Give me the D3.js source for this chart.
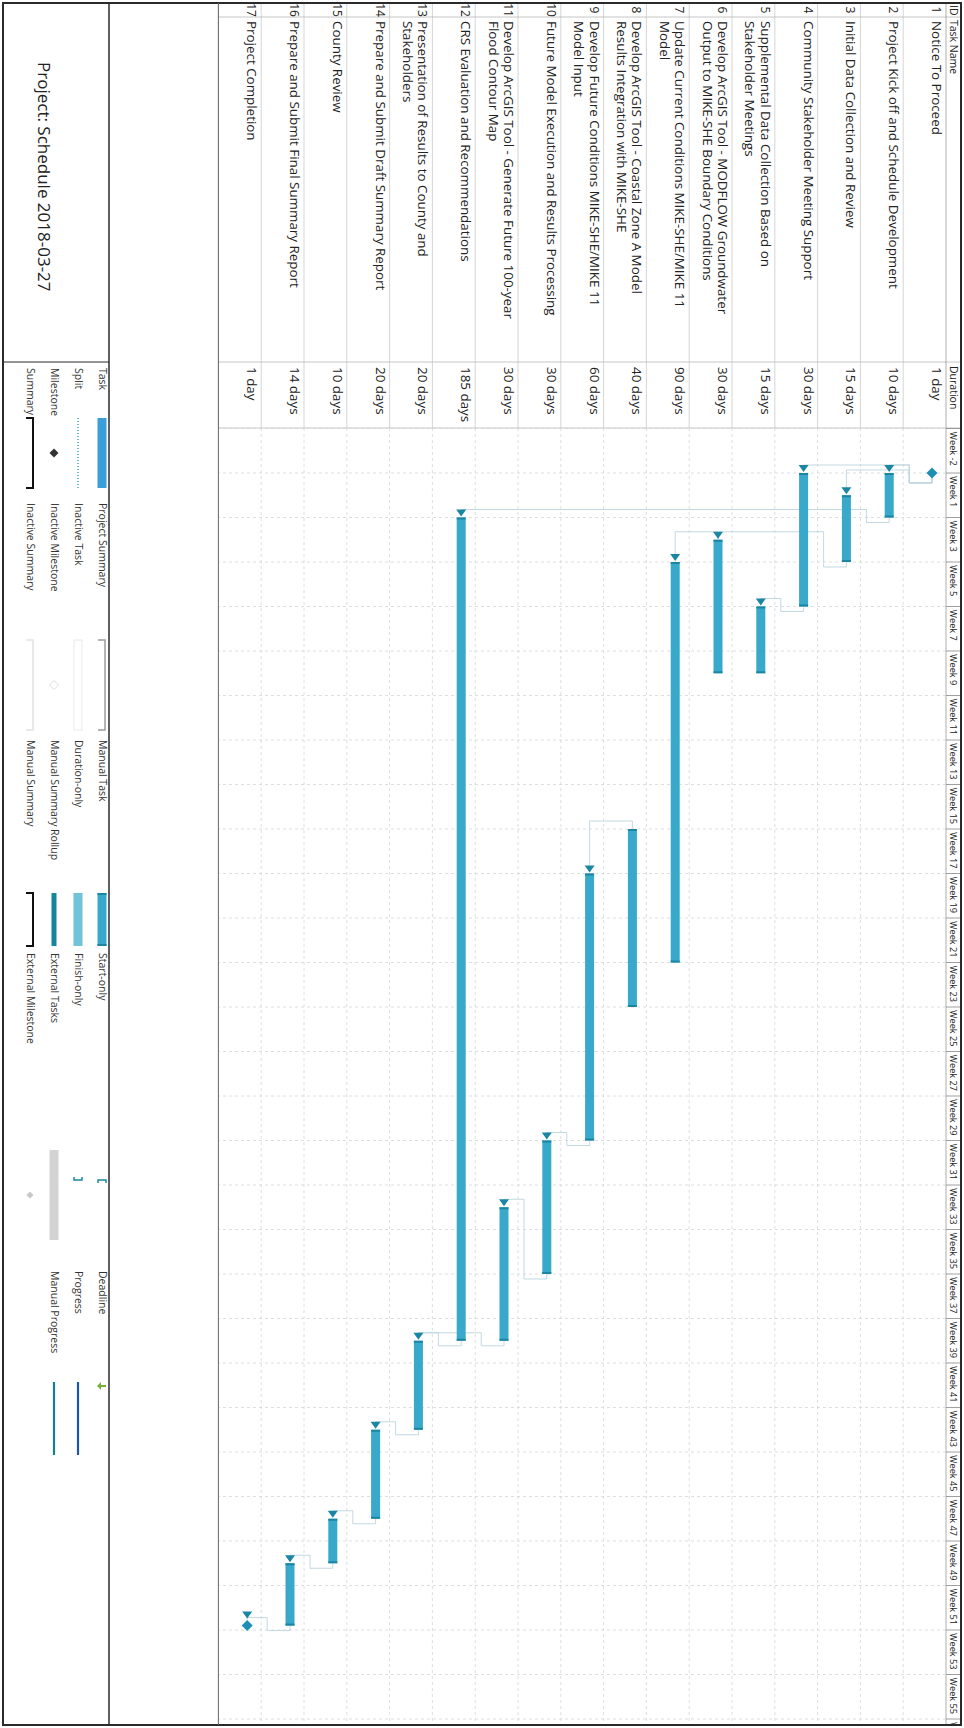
<!DOCTYPE html>
<html>
<head>
<meta charset="utf-8">
<script src="https://d3js.org/d3.v7.min.js"></script>
<title>Project: Schedule 2018-03-27</title>
<style>
  body { margin: 0; background: #fff; }
  svg text { font-family: "Open Sans", "Noto Sans", sans-serif; fill: #222; }
</style>
</head>
<body>
<div id="chart"></div>
<script>
// ---- data ----
var ids = [1, 2, 3, 4, 5, 6, 7, 8, 9, 10, 11, 12, 13, 14, 15, 16, 17];
var taskNames = [
  "Notice To Proceed",
  "Project Kick off and Schedule Development",
  "Initial Data Collection and Review",
  "Community Stakeholder Meeting Support",
  "Supplemental Data Collection Based on\nStakeholder Meetings",
  "Develop ArcGIS Tool - MODFLOW Groundwater\nOutput to MIKE-SHE Boundary Conditions",
  "Update Current Conditions MIKE-SHE/MIKE 11\nModel",
  "Develop ArcGIS Tool - Coastal Zone A Model\nResults Integration with MIKE-SHE",
  "Develop Future Conditions MIKE-SHE/MIKE 11\nModel Input",
  "Future Model Execution and Results Processing",
  "Develop ArcGIS Tool - Generate Future 100-year\nFlood Contour Map",
  "CRS Evaluation and Recommendations",
  "Presentation of Results to County and\nStakeholders",
  "Prepare and Submit Draft Summary Report",
  "County Review",
  "Prepare and Submit Final Summary Report",
  "Project Completion"
];
var durationLabels = ["1 day", "10 days", "15 days", "30 days", "15 days", "30 days", "90 days", "40 days",
  "60 days", "30 days", "30 days", "185 days", "20 days", "20 days", "10 days", "14 days", "1 day"];
// working days from project start
var startDays  = [0, 0, 5, 0, 30, 15, 20, 80, 90, 150, 165, 10, 195, 215, 235, 245, 259];
var lengthDays = [0, 10, 15, 30, 15, 30, 90, 40, 60, 30, 30, 185, 20, 20, 10, 14, 0];
// predecessor, successor, type
var links = [[1, 2, "FS"], [1, 3, "FS"], [1, 4, "FS"], [4, 5, "FS"], [3, 6, "FS"], [6, 7, "SS"],
  [8, 9, "SS"], [9, 10, "FS"], [10, 11, "FS"], [2, 12, "FS"], [11, 13, "FS"], [12, 13, "FS"],
  [13, 14, "FS"], [14, 15, "FS"], [15, 16, "FS"], [16, 17, "FS"]];
var weekLabels = ["Week -2", "Week 1", "Week 3", "Week 5", "Week 7", "Week 9", "Week 11", "Week 13",
  "Week 15", "Week 17", "Week 19", "Week 21", "Week 23", "Week 25", "Week 27", "Week 29", "Week 31",
  "Week 33", "Week 35", "Week 37", "Week 39", "Week 41", "Week 43", "Week 45", "Week 47", "Week 49",
  "Week 51", "Week 53", "Week 55", "W"];
var legendCols = [
  ["Task", "Split", "Milestone", "Summary"],
  ["Project Summary", "Inactive Task", "Inactive Milestone", "Inactive Summary"],
  ["Manual Task", "Duration-only", "Manual Summary Rollup", "Manual Summary"],
  ["Start-only", "Finish-only", "External Tasks", "External Milestone"],
  ["Deadline", "Progress", "Manual Progress"]
];
var projectTitle = "Project: Schedule 2018-03-27";

// ---- layout (drawn unrotated: u along the page height, v across it) ----
var pageW = 964, pageH = 1728;
var rowH = 42.8, headV = 18, tableBottom = headV + 17 * rowH;
var colName = 17, colDur = 362, colGantt = 428, frameEnd = 1725;
var legendTop = 855;

var barBlue = "#38a9cb", barDark = "#1b86a3", linkCol = "#bcd5df", gridCol = "#d3d6d8";

var svg = d3.select("#chart").append("svg").attr("width", pageW).attr("height", pageH);
var g = svg.append("g").attr("transform", "translate(" + pageW + ",0) rotate(90)");

var x = d3.scaleLinear().domain([0, 10]).range([473, 517.5]);
var y = d3.scaleBand().domain(ids).range([headV, tableBottom]);
var barMid = function(id) { return y(id) + 14; };

// clip for the gantt side
svg.append("defs").append("clipPath").attr("id", "gclip")
  .append("rect").attr("x", colGantt).attr("y", 3).attr("width", frameEnd - colGantt).attr("height", tableBottom - 3);

// ---- table grid ----
var grid = g.append("g");
grid.selectAll("line.row").data(ids).enter().append("line")
  .attr("x1", 3).attr("x2", colGantt)
  .attr("y1", function(d) { return y(d) + rowH; }).attr("y2", function(d) { return y(d) + rowH; })
  .attr("stroke", "#cacaca").attr("stroke-width", 0.8);
[colName, colDur, colGantt].forEach(function(u) {
  grid.append("line").attr("x1", u).attr("x2", u).attr("y1", 3).attr("y2", tableBottom)
    .attr("stroke", "#b8b8b8").attr("stroke-width", 0.8);
});
grid.append("line").attr("x1", 3).attr("x2", frameEnd).attr("y1", headV).attr("y2", headV)
  .attr("stroke", "#9a9a9a").attr("stroke-width", 0.8);

// gantt gridlines
var gg = g.append("g").attr("clip-path", "url(#gclip)");
gg.selectAll("line.wk").data(weekLabels).enter().append("line")
  .attr("x1", function(d, i) { return x((i - 1) * 10); }).attr("x2", function(d, i) { return x((i - 1) * 10); })
  .attr("y1", headV).attr("y2", tableBottom)
  .attr("stroke", gridCol).attr("stroke-width", 0.8).attr("stroke-dasharray", "3,3");
gg.selectAll("line.rw").data(ids.slice(0, 16)).enter().append("line")
  .attr("x1", colGantt).attr("x2", frameEnd)
  .attr("y1", function(d) { return y(d) + rowH; }).attr("y2", function(d) { return y(d) + rowH; })
  .attr("stroke", gridCol).attr("stroke-width", 0.8).attr("stroke-dasharray", "3,3");

// timescale header
gg.selectAll("line.hd").data(weekLabels).enter().append("line")
  .attr("x1", function(d, i) { return x((i - 1) * 10); }).attr("x2", function(d, i) { return x((i - 1) * 10); })
  .attr("y1", 3).attr("y2", headV).attr("stroke", "#888").attr("stroke-width", 0.8);
gg.selectAll("text.hd").data(weekLabels).enter().append("text")
  .attr("x", function(d, i) { return x((i - 1) * 10) + 3; }).attr("y", 14)
  .attr("font-size", "9.2px").text(function(d) { return d; });

// table header
var head = g.append("g").attr("font-size", "10.5px");
head.append("text").attr("x", 5).attr("y", 14).text("ID");
head.append("text").attr("x", colName + 3).attr("y", 14).text("Task Name");
head.append("text").attr("x", colDur + 4).attr("y", 14).text("Duration");

// table body
var body = g.append("g").attr("font-size", "13.4px");
body.selectAll("text.id").data(ids).enter().append("text")
  .attr("x", 10).attr("y", function(d) { return y(d) + 14; }).attr("text-anchor", "middle")
  .attr("font-size", "12px").text(function(d) { return d; });
body.selectAll("text.nm").data(ids).enter().append("text")
  .attr("x", colName + 4).attr("y", function(d) { return y(d) + 14; })
  .each(function(d) {
    var t = d3.select(this);
    taskNames[d - 1].split("\n").forEach(function(line, k) {
      t.append("tspan").attr("x", colName + 4).attr("dy", k ? 15.5 : 0).text(line);
    });
  });
body.selectAll("text.du").data(ids).enter().append("text")
  .attr("x", colDur + 5).attr("y", function(d) { return y(d) + 14; })
  .text(function(d) { return durationLabels[d - 1]; });

// ---- links ----
var linkG = gg.append("g").attr("fill", "none").attr("stroke", linkCol).attr("stroke-width", 0.9);
links.forEach(function(l) {
  var p = l[0], s = l[1];
  var sStart = x(startDays[s - 1]), pv = barMid(p), sv = barMid(s), pts;
  if (l[2] === "SS") {
    var pu = x(startDays[p - 1]), turnS = Math.min(pu, sStart) - 8;
    pts = [[pu, pv], [turnS, pv], [turnS, sv], [sStart - 6, sv]];
  } else {
    var pe = x(startDays[p - 1] + lengthDays[p - 1]) + (lengthDays[p - 1] ? 0 : 5);
    var turn = Math.min(pe, sStart) - 8, mid = y(p) + rowH - 6;
    pts = [[pe, pv], [pe + 5, pv], [pe + 5, mid], [turn, mid], [turn, sv], [sStart - 6, sv]];
  }
  linkG.append("path").attr("d", d3.line()(pts));
});
// arrow heads at successor starts
var succ = Array.from(new Set(links.map(function(l) { return l[1]; })));
gg.selectAll("path.arr").data(succ).enter().append("path")
  .attr("d", function(s) {
    var u = x(startDays[s - 1]) - (lengthDays[s - 1] ? 0 : 6), v = barMid(s);
    return "M" + (u - 8) + "," + (v - 5) + "L" + (u - 1) + "," + v + "L" + (u - 8) + "," + (v + 5) + "Z";
  })
  .attr("fill", barDark);

// ---- bars ----
var tasks = ids.filter(function(d) { return lengthDays[d - 1] > 0; });
var bars = gg.selectAll("g.bar").data(tasks).enter().append("g");
bars.append("rect")
  .attr("x", function(d) { return x(startDays[d - 1]); })
  .attr("width", function(d) { return x(startDays[d - 1] + lengthDays[d - 1]) - x(startDays[d - 1]); })
  .attr("y", function(d) { return barMid(d) - 4.5; }).attr("height", 9)
  .attr("fill", barBlue);
bars.append("rect")
  .attr("x", function(d) { return x(startDays[d - 1]); }).attr("width", 2)
  .attr("y", function(d) { return barMid(d) - 4.5; }).attr("height", 9).attr("fill", barDark);
bars.append("rect")
  .attr("x", function(d) { return x(startDays[d - 1] + lengthDays[d - 1]) - 2; }).attr("width", 2)
  .attr("y", function(d) { return barMid(d) - 4.5; }).attr("height", 9).attr("fill", barDark);

// milestones
var miles = ids.filter(function(d) { return lengthDays[d - 1] === 0; });
gg.selectAll("path.ms").data(miles).enter().append("path")
  .attr("d", function(d) {
    var u = x(startDays[d - 1]), v = barMid(d), r = 5.5;
    return "M" + u + "," + (v - r) + "L" + (u + r) + "," + v + "L" + u + "," + (v + r) + "L" + (u - r) + "," + v + "Z";
  })
  .attr("fill", "#1e8eb4");

// ---- frame and lower panels ----
var fr = g.append("g").attr("fill", "none").attr("stroke", "#2a2a2a");
fr.append("rect").attr("x", 3).attr("y", 3).attr("width", frameEnd - 3).attr("height", pageW - 6).attr("stroke-width", 2);
fr.append("line").attr("x1", 3).attr("x2", frameEnd).attr("y1", tableBottom).attr("y2", tableBottom)
  .attr("stroke", "#666").attr("stroke-width", 1);
fr.append("line").attr("x1", 3).attr("x2", frameEnd).attr("y1", legendTop).attr("y2", legendTop).attr("stroke-width", 1.5);
fr.append("line").attr("x1", colDur).attr("x2", colDur).attr("y1", legendTop).attr("y2", pageW - 3).attr("stroke-width", 1.2);

g.append("text").attr("x", 62).attr("y", 926).attr("font-size", "17px").text(projectTitle);

// ---- legend ----
var legV = [862, 886, 910, 934];
var legLayout = [
  { label: 368, sw: [418, 488] },
  { label: 503, sw: [640, 730] },
  { label: 740, sw: [893, 946] },
  { label: 953, sw: [1150, 1240] },
  { label: 1271, sw: [1382, 1455] }
];
var leg = g.append("g").attr("font-size", "10.5px");
legendCols.forEach(function(col, c) {
  leg.selectAll(null).data(col).enter().append("text")
    .attr("x", legLayout[c].label).attr("y", function(d, i) { return legV[i] + 3.5; })
    .style("fill", "#333").text(function(d) { return d; });
});
function swatch(c, r, kind) {
  var a = legLayout[c].sw[0], b = legLayout[c].sw[1], v = legV[r], m = (a + b) / 2;
  if (kind === "bar") leg.append("rect").attr("x", a).attr("y", v - 4.5).attr("width", b - a).attr("height", 9).attr("fill", "#3a9fd8");
  if (kind === "mbar") {
    leg.append("rect").attr("x", a).attr("y", v - 4.5).attr("width", b - a).attr("height", 9).attr("fill", barBlue);
    leg.append("rect").attr("x", a).attr("y", v - 4.5).attr("width", 2).attr("height", 9).attr("fill", barDark);
    leg.append("rect").attr("x", b - 2).attr("y", v - 4.5).attr("width", 2).attr("height", 9).attr("fill", barDark);
  }
  if (kind === "dbar") leg.append("rect").attr("x", a).attr("y", v - 4.5).attr("width", b - a).attr("height", 9).attr("fill", "#72c2da");
  if (kind === "rollup") leg.append("rect").attr("x", a).attr("y", v - 2.5).attr("width", b - a).attr("height", 5).attr("fill", "#16879a");
  if (kind === "ext") leg.append("rect").attr("x", a).attr("y", v - 4.5).attr("width", b - a).attr("height", 9).attr("fill", "#d3d3d3");
  if (kind === "inact") leg.append("rect").attr("x", a).attr("y", v - 4).attr("width", b - a).attr("height", 8).attr("fill", "none").attr("stroke", "#eaeaea");
  if (kind === "split") leg.append("line").attr("x1", a).attr("x2", b).attr("y1", v).attr("y2", v)
    .attr("stroke", "#3a9fd8").attr("stroke-width", 1.5).attr("stroke-dasharray", "1,2");
  if (kind === "dia" || kind === "dia0" || kind === "diaext") {
    var r0 = kind === "diaext" ? 3.5 : 4.5;
    leg.append("path").attr("d", "M" + m + "," + (v - r0) + "L" + (m + r0) + "," + v + "L" + m + "," + (v + r0) + "L" + (m - r0) + "," + v + "Z")
      .attr("fill", kind === "dia" ? "#333" : (kind === "diaext" ? "#c8c8c8" : "none"))
      .attr("stroke", kind === "dia0" ? "#dedede" : "none");
  }
  if (kind === "sum" || kind === "psum" || kind === "isum") {
    var sc = kind === "sum" ? "#111" : (kind === "psum" ? "#9a9a9a" : "#e2e2e2");
    leg.append("path").attr("d", "M" + a + "," + (v + 4) + "L" + a + "," + (v - 3) + "L" + b + "," + (v - 3) + "L" + b + "," + (v + 4))
      .attr("fill", "none").attr("stroke", sc).attr("stroke-width", kind === "sum" ? 2 : 1.5);
  }
  if (kind === "start") leg.append("path").attr("d", "M" + (a + 33) + "," + (v - 4) + "L" + (a + 30) + "," + (v - 4) + "L" + (a + 30) + "," + (v + 4) + "L" + (a + 33) + "," + (v + 4))
    .attr("fill", "none").attr("stroke", "#1b86a3").attr("stroke-width", 1.5);
  if (kind === "finish") leg.append("path").attr("d", "M" + (a + 27) + "," + (v - 4) + "L" + (a + 30) + "," + (v - 4) + "L" + (a + 30) + "," + (v + 4) + "L" + (a + 27) + "," + (v + 4))
    .attr("fill", "none").attr("stroke", "#1b86a3").attr("stroke-width", 1.5);
  if (kind === "deadline") leg.append("path")
    .attr("d", "M" + a + "," + (v - 1) + "L" + (a + 5) + "," + (v - 1) + "L" + (a + 5) + "," + (v - 4) + "L" + (a + 9) + "," + v + "L" + (a + 5) + "," + (v + 4) + "L" + (a + 5) + "," + (v + 1) + "L" + a + "," + (v + 1) + "Z")
    .attr("fill", "#74b23c").attr("transform", "rotate(90," + (a + 4) + "," + v + ")");
  if (kind === "prog") leg.append("line").attr("x1", a).attr("x2", b).attr("y1", v).attr("y2", v).attr("stroke", "#1f54a8").attr("stroke-width", 2.2);
  if (kind === "mprog") leg.append("line").attr("x1", a).attr("x2", b).attr("y1", v).attr("y2", v).attr("stroke", "#17808f").attr("stroke-width", 2.2);
}
[["bar", "split", "dia", "sum"], ["psum", "inact", "dia0", "isum"], ["mbar", "dbar", "rollup", "sum"],
 ["start", "finish", "ext", "diaext"], ["deadline", "prog", "mprog"]].forEach(function(col, c) {
  col.forEach(function(k, r) { swatch(c, r, k); });
});
</script>
</body>
</html>
